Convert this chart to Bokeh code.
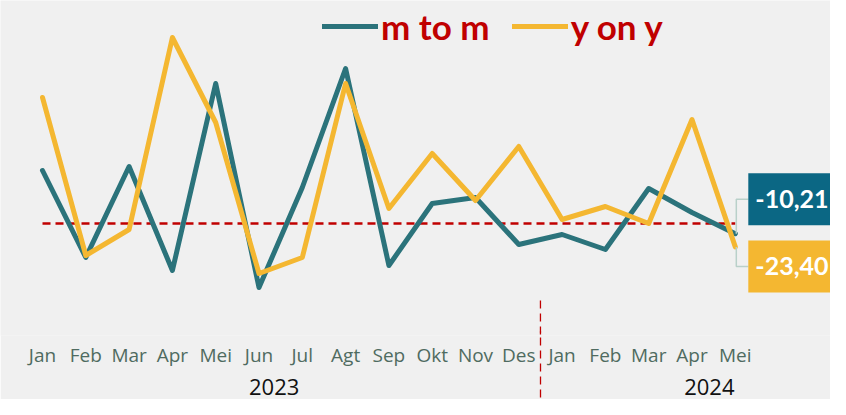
from bokeh.plotting import figure
from bokeh.models import (ColumnDataSource, FixedTicker, LinearAxis, Legend, LegendItem,
                          Label, Range1d)
from bokeh.embed import file_html
from bokeh.resources import INLINE

# ---------------- data ----------------
months = ["Jan", "Feb", "Mar", "Apr", "Mei", "Jun", "Jul", "Agt", "Sep", "Okt", "Nov", "Des",
          "Jan", "Feb", "Mar", "Apr", "Mei"]
years = ["2023", "2024"]
year_tick_pos = [5.35, 15.4]
n_months_2023 = 12
m_to_m = [53, -34, 57, -47, 140, -64, 36, 155, -42, 20, 26, -21, -11, -26, 35, 11, -10.21]
y_on_y = [126, -32, -6, 186, 101, -50, -34, 140, 15, 70, 23, 77, 4, 17, 0, 104, -23.40]

# ---------------- styles ----------------
BG = "#f0f0f0"
TEAL = "#2b737b"
YELLOW = "#f4b731"
BOX_TEAL = "#0b6784"
RED = "#c00000"
MONTH_COLOR = "#4f6b60"
LEADER = "#b9d0c9"

W, H = 830, 399
BOTTOM = 64
PX_PER_MONTH = 43.3
FIRST_PX = 42.0
x_start = -FIRST_PX / PX_PER_MONTH
x_end = x_start + W / PX_PER_MONTH
y_top = 223
y_bottom = y_top - (H - BOTTOM)

x = list(range(len(months)))

p = figure(width=W, height=H, output_backend="svg", toolbar_location=None,
           x_range=Range1d(x_start, x_end), y_range=Range1d(y_bottom, y_top),
           x_axis_type=None, y_axis_type=None,
           background_fill_color=BG, border_fill_color=BG,
           min_border_left=0, min_border_right=0, min_border_top=0,
           min_border_bottom=BOTTOM)
p.outline_line_color = None
p.xgrid.visible = False
p.ygrid.visible = False

divider = n_months_2023 - 0.5

month_axis = LinearAxis(
    ticker=FixedTicker(ticks=x, minor_ticks=[]),
    major_label_overrides={i: m for i, m in enumerate(months)},
    axis_line_color=None, major_tick_line_color=None, minor_tick_line_color=None,
    major_tick_in=0, major_tick_out=0, minor_tick_in=0, minor_tick_out=0,
    major_label_standoff=6, major_label_text_font="Open Sans",
    major_label_text_font_size="19px", major_label_text_color=MONTH_COLOR)
p.add_layout(month_axis, "below")

year_axis = LinearAxis(
    ticker=FixedTicker(ticks=year_tick_pos, minor_ticks=[]),
    major_label_overrides={pos: y for pos, y in zip(year_tick_pos, years)},
    axis_line_color=None, major_tick_line_color=None, minor_tick_line_color=None,
    major_tick_in=0, major_tick_out=0, minor_tick_in=0, minor_tick_out=0,
    major_label_standoff=8, major_label_text_font="Open Sans",
    major_label_text_font_size="22px", major_label_text_color="#111111")
p.add_layout(year_axis, "below")

# year divider below the frame (drawn as an inward minor tick of an unlabeled axis)
divider_axis = LinearAxis(
    ticker=FixedTicker(ticks=[], minor_ticks=[divider]),
    axis_line_color=None, major_tick_line_color=None,
    major_tick_in=0, major_tick_out=0, minor_tick_in=BOTTOM + 2, minor_tick_out=0,
    minor_tick_line_color=RED, minor_tick_line_dash="8 5", minor_tick_line_width=1.3,
    major_label_standoff=0, major_label_text_font_size="0px")
p.add_layout(divider_axis, "below")

# divider part inside the frame
p.segment(x0=[divider], y0=[-77], x1=[divider], y1=[y_bottom], line_color=RED,
          line_width=1.3, line_dash="8 5")

# zero reference line
p.line(x=[x[0], x[-1]], y=[0, 0], line_color=RED, line_width=2.3, line_dash="8 5")

src = ColumnDataSource(dict(x=x, mtm=m_to_m, yoy=y_on_y))
r1 = p.line("x", "mtm", source=src, line_color=TEAL, line_width=5,
            line_join="round", line_cap="round")
r2 = p.line("x", "yoy", source=src, line_color=YELLOW, line_width=5,
            line_join="round", line_cap="round")

legend = Legend(items=[LegendItem(label="m to m", renderers=[r1]),
                       LegendItem(label="y on y", renderers=[r2])],
                orientation="horizontal", location=(322, 288),
                label_text_font="Lato", label_text_font_style="bold",
                label_text_color=RED, label_text_font_size="35px",
                glyph_width=56, glyph_height=20, label_standoff=3, spacing=22,
                padding=0, margin=0, border_line_color=None,
                background_fill_alpha=0)
p.add_layout(legend)

# end value labels with leader lines
last = len(months) - 1
box_dx = 13
for val, off, col in [(m_to_m[-1], 34.5, BOX_TEAL), (y_on_y[-1], -19.5, YELLOW)]:
    p.line(x=[last + 1 / PX_PER_MONTH, last + 1 / PX_PER_MONTH, last + box_dx / PX_PER_MONTH],
           y=[val, val + off, val + off], line_color=LEADER, line_width=1.5)
    p.add_layout(Label(x=last, y=val, x_offset=box_dx, y_offset=off,
                       text=f"{val:.2f}".replace(".", ","),
                       text_align="left", text_baseline="middle",
                       text_font="Lato", text_font_style="bold",
                       text_font_size="25px", text_color="white",
                       background_fill_color=col, padding=(7, 17)))

open("out.html", "w").write(file_html(p, INLINE))
